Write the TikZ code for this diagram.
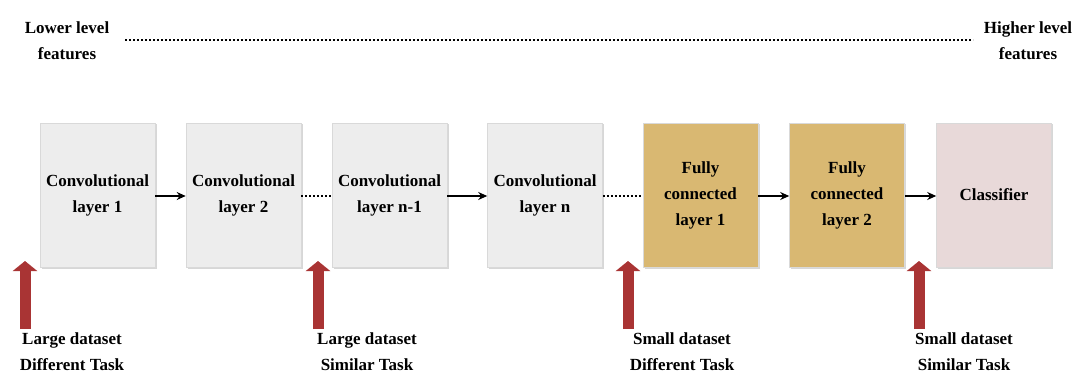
\documentclass[tikz,border=0pt]{standalone}
\usepackage{fontspec}
\setmainfont{Liberation Serif}
\usetikzlibrary{arrows.meta,shadows}
\definecolor{boxgray}{HTML}{EDEDED}
\definecolor{fcgold}{HTML}{D9B872}
\definecolor{clspink}{HTML}{E8D9D9}
\definecolor{arrred}{HTML}{A93434}
\begin{document}
\begin{tikzpicture}[x=1pt,y=-1pt,
  lbl/.style={font=\bfseries\fontsize{17}{26}\selectfont, align=center, inner sep=0pt},
  layerbox/.style={lbl, minimum width=115pt, minimum height=144pt, draw=gray!30, line width=0.6pt,
     drop shadow={shadow xshift=1.5pt, shadow yshift=-1.5pt, fill=gray!45, opacity=0.7}},
  conv/.style={layerbox, fill=boxgray},
  fc/.style={layerbox, fill=fcgold},
  cls/.style={layerbox, fill=clspink},
  flow/.style={line width=1.6pt, -{Stealth[length=9pt,width=8pt]}},
  dots/.style={line width=1.4pt, dash pattern=on 2pt off 2pt},
  redarrow/.style={arrred, line width=11pt, -{Triangle[width=24pt,length=10pt]}}
]
\useasboundingbox (0,0) rectangle (1078,374);
% top labels
\node[lbl] (low) at (67,40.5) {Lower level\\features};
\node[lbl] (high) at (1028,40.5) {Higher level\\features};
\coordinate (ds) at (125,40);
\coordinate (de) at (973,40);
\draw[dots, line width=1.3pt] (ds) -- (de);
% boxes
\node[conv] (c1) at (97.5,195) {Convolutional\\layer 1};
\node[conv] (c2) at (243.5,195) {Convolutional\\layer 2};
\node[conv] (c3) at (389.5,195) {Convolutional\\layer n-1};
\node[conv] (c4) at (545,195) {Convolutional\\layer n};
\node[fc] (f1) at (700.5,195) {Fully\\connected\\layer 1};
\node[fc] (f2) at (847,195) {Fully\\connected\\layer 2};
\node[cls] (cl) at (994,195) {Classifier};
% connectors
\draw[flow] ([yshift=-1pt]c1.east) -- ([yshift=-1pt]c2.west);
\draw[dots] ([yshift=-1pt]c2.east) -- ([yshift=-1pt]c3.west);
\draw[flow] ([yshift=-1pt]c3.east) -- ([yshift=-1pt]c4.west);
\draw[dots] ([yshift=-1pt]c4.east) -- ([yshift=-1pt]f1.west);
\draw[flow] ([yshift=-1pt]f1.east) -- ([yshift=-1pt]f2.west);
\draw[flow] ([yshift=-1pt]f2.east) -- ([yshift=-1pt]cl.west);
% bottom labels
\node[lbl] (b1) at (72,352) {Large dataset\\Different Task};
\node[lbl] (b2) at (367,352) {Large dataset\\Similar Task};
\node[lbl] (b3) at (682,352) {Small dataset\\Different Task};
\node[lbl] (b4) at (964,352) {Small dataset\\Similar Task};
% red arrows
\coordinate (a1s) at (25,329); \coordinate (a1e) at (25,261);
\coordinate (a2s) at (318,329); \coordinate (a2e) at (318,261);
\coordinate (a3s) at (628,329); \coordinate (a3e) at (628,261);
\coordinate (a4s) at (919,329); \coordinate (a4e) at (919,261);
\draw[redarrow] (a1s) -- (a1e);
\draw[redarrow] (a2s) -- (a2e);
\draw[redarrow] (a3s) -- (a3e);
\draw[redarrow] (a4s) -- (a4e);
\end{tikzpicture}
\end{document}
